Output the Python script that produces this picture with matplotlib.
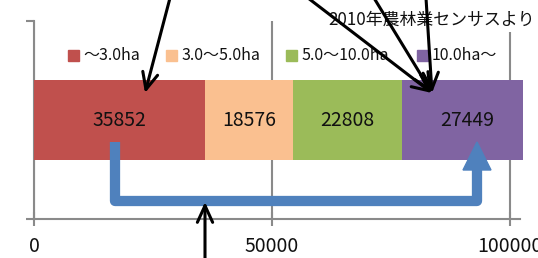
import matplotlib
matplotlib.use("Agg")
import matplotlib.pyplot as plt
from matplotlib.patches import Rectangle, Polygon
from matplotlib.lines import Line2D

plt.rcParams['font.family'] = ['Noto Sans CJK JP', 'DejaVu Sans']

# ---- data ----
categories = ['～3.0ha', '3.0～5.0ha', '5.0～10.0ha', '10.0ha～']
values = [35852, 18576, 22808, 27449]
colors = ['#C0504D', '#FAC090', '#9BBB59', '#8064A2']
xticks = [0, 50000, 100000]
xticklabels = ['0', '50000', '100000']
note = '2010年農林業センサスより'

W, H = 538, 258
fig = plt.figure(figsize=(W / 100, H / 100), dpi=100)

# plot area in pixel terms
left_px, right_px, top_px, bottom_px = 34, 523, 21, 219
ax = fig.add_axes([left_px / W, (H - bottom_px) / H,
                   (right_px - left_px) / W, (bottom_px - top_px) / H])
scale = (510.3 - 34.3) / 100000.0  # px per unit
xmax = (right_px - left_px) / scale
ax.set_xlim(0, xmax)
ax.set_ylim(0, 1)

gray = '#8A8A8A'
cum = 0
for v, c in zip(values, colors):
    ax.barh(0.5, v, left=cum, height=0.4, color=c, zorder=3)
    ax.text(cum + v / 2, 0.5, str(v), ha='center', va='center',
            fontsize=14, color='#111111', zorder=4, clip_on=False)
    cum += v

ax.set_xticks(xticks)
ax.set_xticklabels(xticklabels)
ax.tick_params(axis='x', direction='inout', length=10, width=1.5,
               color=gray, labelsize=14, pad=7, labelcolor='#111111')
ax.set_yticks([0, 1])
ax.set_yticklabels([])
ax.tick_params(axis='y', direction='out', length=5.8, width=1.5, color=gray)
ax.grid(axis='x', color=gray, lw=1.5, zorder=0)
ax.set_axisbelow(True)
for s in ['top', 'right']:
    ax.spines[s].set_visible(False)
ax.spines['left'].set_color(gray)
ax.spines['left'].set_linewidth(1.5)
ax.spines['left'].set_zorder(2)
ax.spines['bottom'].set_color(gray)
ax.spines['bottom'].set_linewidth(1.5)
ax.spines['bottom'].set_bounds(0, (520 - left_px) / scale)

# ---- overlay in image-pixel coordinates ----
ov = fig.add_axes([0, 0, 1, 1], facecolor='none')
ov.set_xlim(0, W)
ov.set_ylim(H, 0)
ov.axis('off')

# legend
sq_left = [68, 166, 286, 417]
for lab, c, x0 in zip(categories, colors, sq_left):
    ov.add_patch(Rectangle((x0, 50), 11, 11, color=c))
    ov.text(x0 + 15, 55.5, lab, ha='left', va='center', fontsize=11.5,
            color='#111111')

# note
ov.text(328, 19.5, note, ha='left', va='center', fontsize=12.2,
        color='#111111',
        bbox=dict(facecolor='white', edgecolor='none', pad=2.5), zorder=2)

# blue bracket arrow
blue = '#4F81BD'
ov.add_line(Line2D([115, 115, 477, 477], [142, 200.5, 200.5, 168],
                   color=blue, lw=7.4, solid_joinstyle='round',
                   solid_capstyle='butt', zorder=5))
ov.add_patch(Polygon([[463, 170], [491, 170], [477, 142]], closed=True,
                     color=blue, zorder=5))

# black arrows
ap = dict(arrowstyle='->,head_length=1.2,head_width=0.55', lw=2.2,
          color='black', shrinkA=0, shrinkB=0, mutation_scale=10)
arrows = [((170, -2), (145, 93)),
          ((308, -2), (432, 93)),
          ((374, -2), (432, 93)),
          ((426, -2), (432, 93)),
          ((205, 262), (205, 202))]
for start, tip in arrows:
    ov.annotate('', xy=tip, xytext=start, xycoords='data', textcoords='data',
                arrowprops=ap, annotation_clip=False, zorder=6)

fig.savefig('out.png', dpi=100)
